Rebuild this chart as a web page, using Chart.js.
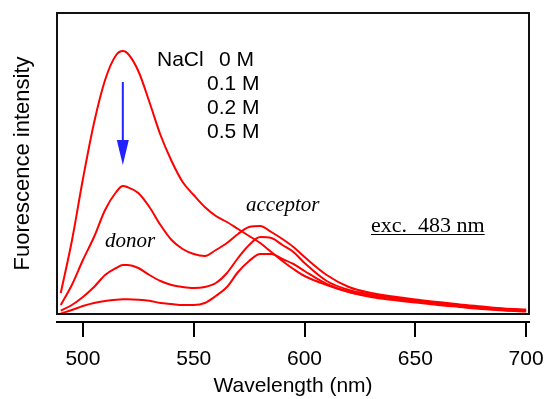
<!DOCTYPE html>
<html>
<head>
<meta charset="utf-8">
<script src="https://cdn.jsdelivr.net/npm/chart.js@4/dist/chart.umd.min.js"></script>
<style>
  body { margin: 0; background: #fff; }
</style>
</head>
<body>
<canvas id="specChart" width="546" height="399"></canvas>
<script>
// ---------- DATA ----------
const wavelengths = [490, 495, 500, 505, 510, 515, 518, 520, 525, 530, 535, 540, 545, 550, 555, 560, 565, 570, 575, 580, 585, 590, 595, 600, 610, 620, 630, 640, 650, 660, 670, 680, 690, 700];

const nacl0M  = [21, 73, 135, 191, 234, 259, 263, 261, 243, 212, 179, 153, 132, 119, 107, 98, 92, 85, 78, 71, 62, 53, 45, 38, 29, 22, 17, 14, 11.5, 9, 7, 5, 3.5, 2.5];
const nacl01M = [9, 29, 54, 77, 104, 122, 128, 127, 121, 107, 89, 74, 65, 60, 58, 64, 71, 80, 87, 88, 82, 75, 67, 57, 39, 27, 21, 17.5, 14.5, 12, 9.5, 7.5, 5.5, 4.5];
const nacl02M = [3.3, 9, 17, 27, 39, 46, 49, 49, 46, 39, 33, 29, 27, 26, 27, 31, 41, 56, 69, 77, 76, 69, 62, 51, 33, 24, 19.5, 16.5, 13.5, 11, 8.5, 6.5, 5, 4];
const nacl05M = [0.5, 4, 8, 11, 13, 14.3, 14.7, 14.7, 14.3, 13.3, 11, 10, 9, 9, 11, 18, 27, 42, 53, 60, 60, 55, 50, 43, 30, 22, 18, 15.5, 12.5, 10, 7.5, 5.5, 4, 3];

const seriesNames = ["0 M", "0.1 M", "0.2 M", "0.5 M"];
const tickValues = [500, 550, 600, 650, 700];

// build {x,y} points for each curve
const toPoints = arr => wavelengths.map((w, i) => ({ x: w, y: arr[i] }));
const allSeries = [nacl0M, nacl01M, nacl02M, nacl05M];

// ---------- PLOT BOX + ANNOTATIONS ----------
const frameAndNotes = {
    id: "frameAndNotes",
    afterDatasetsDraw(chart) {
        const { ctx, chartArea: a, scales } = chart;
        ctx.save();

        // plot box
        ctx.strokeStyle = "#111";
        ctx.lineWidth = 2;
        ctx.strokeRect(a.left, a.top, a.right - a.left, a.bottom - a.top);

        // blue arrow (NaCl increasing)
        const ax = scales.x.getPixelForValue(518);
        const yTop = scales.y.getPixelForValue(232);
        const yHead = scales.y.getPixelForValue(174);
        const yTip = scales.y.getPixelForValue(149);
        ctx.strokeStyle = "#2222ff";
        ctx.fillStyle = "#2222ff";
        ctx.lineWidth = 2;
        ctx.beginPath();
        ctx.moveTo(ax, yTop);
        ctx.lineTo(ax, yHead + 2);
        ctx.stroke();
        ctx.beginPath();
        ctx.moveTo(ax - 6, yHead);
        ctx.lineTo(ax + 6, yHead);
        ctx.lineTo(ax, yTip);
        ctx.closePath();
        ctx.fill();

        // concentration labels
        ctx.fillStyle = "#000";
        ctx.textBaseline = "alphabetic";
        ctx.textAlign = "left";
        ctx.font = "21px 'Liberation Sans', Arial, sans-serif";
        ctx.fillText("NaCl", 157, 66);
        ctx.fillText(seriesNames[0], 219, 66);
        ctx.fillText(seriesNames[1], 207, 90);
        ctx.fillText(seriesNames[2], 207, 114);
        ctx.fillText(seriesNames[3], 207, 138);

        // italic band labels
        ctx.font = "italic 21px 'Liberation Serif', 'Times New Roman', serif";
        ctx.fillText("acceptor", 246, 211);
        ctx.fillText("donor", 105, 247);

        // excitation note, underlined
        ctx.font = "22px 'Liberation Serif', 'Times New Roman', serif";
        const exc = "exc.  483 nm";
        ctx.fillText(exc, 371, 232);
        const w = ctx.measureText(exc).width;
        ctx.lineWidth = 1;
        ctx.strokeStyle = "#000";
        ctx.beginPath();
        ctx.moveTo(371, 234.5);
        ctx.lineTo(371 + w, 234.5);
        ctx.stroke();

        ctx.restore();
    }
};

const ctx = document.getElementById("specChart").getContext("2d");

new Chart(ctx, {
    type: "line",
    data: {
        datasets: allSeries.map((arr, i) => ({
            label: seriesNames[i],
            data: toPoints(arr),
            borderColor: "#ff0000",
            borderWidth: 2,
            pointRadius: 0,
            fill: false,
            cubicInterpolationMode: "monotone",
            xAxisID: "x",
            yAxisID: "y"
        }))
    },
    options: {
        responsive: false,
        animation: false,
        layout: { padding: { top: 13, right: 17, left: 0, bottom: 0 } },
        plugins: {
            legend: { display: false },
            tooltip: { enabled: false }
        },
        scales: {
            // small empty axis so the x axis line sits below the box
            gap: {
                type: "linear",
                position: "bottom",
                weight: 0,
                min: 0,
                max: 1,
                ticks: { display: false },
                grid: { display: false, drawTicks: false },
                border: { display: false },
                afterFit: scale => { scale.height = 8; }
            },
            x: {
                type: "linear",
                position: "bottom",
                weight: 1,
                min: 488.3,
                max: 701.3,
                afterBuildTicks: scale => {
                    scale.ticks = tickValues.map(v => ({ value: v }));
                },
                afterFit: scale => {
                    scale.height = 77;
                    scale.paddingLeft = 0;
                    scale.paddingRight = 0;
                },
                ticks: {
                    color: "#000",
                    padding: 10,
                    font: { family: "'Liberation Sans', Arial, sans-serif", size: 21 }
                },
                grid: {
                    drawOnChartArea: false,
                    drawTicks: true,
                    tickLength: 15,
                    lineWidth: 2,
                    color: "#000"
                },
                border: { display: true, color: "#000", width: 2 },
                title: {
                    display: true,
                    text: "Wavelength (nm)",
                    color: "#000",
                    padding: { top: 1.6, bottom: 0 },
                    font: { family: "'Liberation Sans', Arial, sans-serif", size: 21 }
                }
            },
            y: {
                type: "linear",
                position: "left",
                min: 0,
                max: 301,
                ticks: { display: false },
                grid: { display: false, drawTicks: false },
                border: { display: false },
                title: {
                    display: true,
                    text: "Fuorescence intensity",
                    color: "#000",
                    padding: { top: 10, bottom: 20.6 },
                    font: { family: "'Liberation Sans', Arial, sans-serif", size: 22 }
                }
            }
        }
    },
    plugins: [frameAndNotes]
});
</script>
</body>
</html>
